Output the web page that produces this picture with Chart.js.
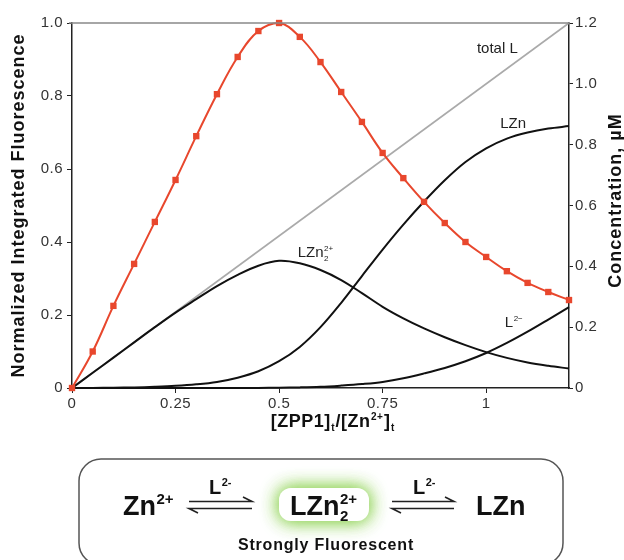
<!DOCTYPE html>
<html lang="en">
<head>
    <meta charset="UTF-8">
    <title>ZPP1 Zn titration</title>
    <script src="https://cdn.jsdelivr.net/npm/chart.js"></script>
    <style>
        body { margin: 0; background: #fff; }
    </style>
</head>
<body>
    <canvas id="titrationChart" width="624" height="560"></canvas>

    <script>
        // [ZPP1]t/[Zn2+]t ratio values
        const xRatio = [0, 0.05, 0.1, 0.15, 0.2, 0.25, 0.3, 0.35, 0.4, 0.45, 0.5, 0.55, 0.6,
                        0.65, 0.7, 0.75, 0.8, 0.85, 0.9, 0.95, 1.0, 1.05, 1.1, 1.15, 1.2];
        // normalized integrated fluorescence (left axis)
        const fluorescence = [0, 0.10, 0.225, 0.34, 0.455, 0.57, 0.69, 0.805, 0.907, 0.978, 1.0, 0.962, 0.893,
                              0.811, 0.729, 0.644, 0.575, 0.51, 0.452, 0.40, 0.359, 0.32, 0.288, 0.263, 0.241];
        // species concentrations, uM (right axis)
        const lzn2 = [0, 0.05, 0.1, 0.15, 0.2, 0.248, 0.292, 0.335, 0.372, 0.402, 0.418, 0.41, 0.388,
                      0.355, 0.312, 0.267, 0.229, 0.196, 0.167, 0.141, 0.118, 0.099, 0.084, 0.073, 0.064];
        const lzn = [0, 0, 0.001, 0.002, 0.004, 0.007, 0.012, 0.02, 0.034, 0.055, 0.088, 0.135, 0.2,
                     0.28, 0.368, 0.455, 0.537, 0.613, 0.683, 0.743, 0.788, 0.82, 0.84, 0.853, 0.861];
        const freeL = [0, 0, 0, 0, 0, 0, 0, 0, 0, 0, 0.001, 0.002, 0.004,
                       0.008, 0.013, 0.02, 0.032, 0.048, 0.066, 0.088, 0.115, 0.148, 0.185, 0.225, 0.266];
        const totalLX = [0, 1.2];
        const totalL = [0, 1.2];
        const xTicks = [0, 0.25, 0.5, 0.75, 1];

        const FONT = "Arial, 'Liberation Sans', Helvetica, sans-serif";
        const RED = '#e8472d';

        const pts = (xs, ys) => xs.map((x, i) => ({ x: x, y: ys[i] }));

        // text with stacked sub/superscripts
        function partWidth(ctx, p, size, weight) {
            if (p.t !== undefined) {
                ctx.font = weight + ' ' + size + 'px ' + FONT;
                return ctx.measureText(p.t).width;
            }
            ctx.font = weight + ' ' + Math.round(size * 0.56) + 'px ' + FONT;
            return Math.max(p.sup ? ctx.measureText(p.sup).width : 0, p.sub ? ctx.measureText(p.sub).width : 0) + 1;
        }
        function drawRich(ctx, parts, x, y, size, weight, align) {
            let w = 0;
            parts.forEach(p => { w += partWidth(ctx, p, size, weight); });
            let cx = align === 'center' ? x - w / 2 : x;
            ctx.textAlign = 'left';
            ctx.textBaseline = 'alphabetic';
            parts.forEach(p => {
                const pw = partWidth(ctx, p, size, weight);
                if (p.t !== undefined) {
                    ctx.font = weight + ' ' + size + 'px ' + FONT;
                    ctx.fillText(p.t, cx, y);
                } else {
                    ctx.font = weight + ' ' + Math.round(size * 0.56) + 'px ' + FONT;
                    if (p.sup) ctx.fillText(p.sup, cx + 0.5, y - size * 0.4);
                    if (p.sub) ctx.fillText(p.sub, cx + 0.5, y + size * 0.22);
                }
                cx += pw;
            });
        }

        function harpoons(ctx, x1, x2, y) {
            ctx.beginPath();
            ctx.moveTo(x1, y - 3.5); ctx.lineTo(x2, y - 3.5); ctx.lineTo(x2 - 9, y - 8);
            ctx.moveTo(x2, y + 3.5); ctx.lineTo(x1, y + 3.5); ctx.lineTo(x1 + 9, y + 8);
            ctx.stroke();
        }

        const decorations = {
            id: 'decorations',
            beforeDraw(chart) {
                chart.ctx.letterSpacing = '0.5px';
            },
            afterDraw(chart) {
                const ctx = chart.ctx;
                const a = chart.chartArea;
                const y2 = chart.scales.y2;
                const x = chart.scales.x;
                ctx.save();

                // gray top frame line
                ctx.strokeStyle = '#888';
                ctx.lineWidth = 1.5;
                ctx.beginPath();
                ctx.moveTo(a.left - 3, a.top); ctx.lineTo(a.right, a.top);
                ctx.stroke();

                ctx.fillStyle = '#111';
                // axis titles
                ctx.letterSpacing = '1px';
                ctx.font = 'bold 18px ' + FONT;
                ctx.textAlign = 'center';
                ctx.textBaseline = 'middle';
                ctx.save();
                ctx.translate(19, (a.top + a.bottom) / 2);
                ctx.rotate(-Math.PI / 2);
                ctx.fillText('Normalized Integrated Fluorescence', 0, 0);
                ctx.restore();
                ctx.save();
                ctx.translate(616, (a.top + a.bottom) / 2 - 5);
                ctx.rotate(-Math.PI / 2);
                ctx.fillText('Concentration, \u00b5M', 0, 0);
                ctx.restore();
                ctx.letterSpacing = '0.5px';
                drawRich(ctx, [{ t: '[ZPP1]' }, { sub: 't' }, { t: '/[Zn' }, { sup: '2+' }, { t: ']' }, { sub: 't' }],
                    333, 427, 18, 'bold', 'center');

                // curve labels
                ctx.fillStyle = '#222';
                ctx.letterSpacing = '0px';
                drawRich(ctx, [{ t: 'total L' }], x.getPixelForValue(1.027), y2.getPixelForValue(1.1), 15, 'normal', 'center');
                drawRich(ctx, [{ t: 'LZn' }], x.getPixelForValue(1.065), y2.getPixelForValue(0.855), 15, 'normal', 'center');
                drawRich(ctx, [{ t: 'LZn' }, { sub: '2', sup: '2+' }], x.getPixelForValue(0.545), y2.getPixelForValue(0.43), 15, 'normal', 'left');
                drawRich(ctx, [{ t: 'L' }, { sup: '2\u2212' }], x.getPixelForValue(1.045), y2.getPixelForValue(0.2), 15, 'normal', 'left');

                // reaction scheme box
                ctx.strokeStyle = '#555';
                ctx.lineWidth = 1.5;
                ctx.beginPath();
                ctx.roundRect(79, 459, 484, 106, 22);
                ctx.stroke();

                // green glow behind the fluorescent species
                ctx.save();
                ctx.shadowColor = 'rgba(140, 210, 80, 0.9)';
                ctx.shadowBlur = 18;
                ctx.fillStyle = '#fff';
                ctx.beginPath();
                ctx.roundRect(279, 488, 90, 33, 12);
                ctx.fill();
                ctx.fill();
                ctx.restore();

                ctx.fillStyle = '#111';
                ctx.strokeStyle = '#222';
                ctx.lineWidth = 1.6;
                drawRich(ctx, [{ t: 'Zn' }, { sup: '2+' }], 123, 515, 27, 'bold', 'left');
                harpoons(ctx, 189, 252, 505);
                drawRich(ctx, [{ t: 'L' }, { sup: '2-' }], 209, 494, 20, 'bold', 'left');
                drawRich(ctx, [{ t: 'LZn' }, { sub: '2', sup: '2+' }], 290, 515, 27, 'bold', 'left');
                harpoons(ctx, 392, 454, 505);
                drawRich(ctx, [{ t: 'L' }, { sup: '2-' }], 413, 494, 20, 'bold', 'left');
                drawRich(ctx, [{ t: 'LZn' }], 476, 515, 27, 'bold', 'left');
                ctx.letterSpacing = '0.8px';
                drawRich(ctx, [{ t: 'Strongly Fluorescent' }], 326, 550, 16, 'bold', 'center');

                ctx.restore();
            }
        };

        const lineStyle = { pointRadius: 0, borderWidth: 2, fill: false, clip: false, tension: 0.35 };

        new Chart(document.getElementById('titrationChart'), {
            type: 'line',
            data: {
                datasets: [
                    {
                        label: 'Fluorescence',
                        data: pts(xRatio, fluorescence),
                        yAxisID: 'y',
                        borderColor: RED,
                        backgroundColor: RED,
                        borderWidth: 2,
                        pointStyle: 'rect',
                        pointRadius: 4.5,
                        pointBorderWidth: 0,
                        tension: 0.4,
                        clip: false
                    },
                    Object.assign({ label: 'LZn2', data: pts(xRatio, lzn2), yAxisID: 'y2', borderColor: '#111' }, lineStyle),
                    Object.assign({ label: 'LZn', data: pts(xRatio, lzn), yAxisID: 'y2', borderColor: '#111' }, lineStyle),
                    Object.assign({ label: 'L', data: pts(xRatio, freeL), yAxisID: 'y2', borderColor: '#111' }, lineStyle),
                    {
                        label: 'total L',
                        data: pts(totalLX, totalL),
                        yAxisID: 'y2',
                        borderColor: '#aaa',
                        borderWidth: 1.6,
                        pointRadius: 0,
                        clip: false
                    }
                ]
            },
            options: {
                responsive: false,
                animation: false,
                layout: { padding: { top: 23, bottom: 120, left: 0, right: 0 } },
                plugins: { legend: { display: false }, tooltip: { enabled: false } },
                scales: {
                    x: {
                        type: 'linear',
                        min: 0,
                        max: 1.2,
                        afterBuildTicks: s => { s.ticks = xTicks.map(v => ({ value: v })); },
                        afterFit: s => { s.height = 52; },
                        grid: { drawOnChartArea: false, tickLength: 5, color: '#222' },
                        border: { color: '#222', width: 1.5 },
                        ticks: { color: '#333', font: { family: FONT, size: 15 }, padding: 2, callback: v => String(v) }
                    },
                    y: {
                        position: 'left',
                        min: 0,
                        max: 1,
                        afterFit: s => { s.width = 72; },
                        grid: { drawOnChartArea: false, tickLength: 5, color: '#222' },
                        border: { color: '#222', width: 1.5 },
                        ticks: { stepSize: 0.2, color: '#333', font: { family: FONT, size: 15 }, padding: 4,
                                 callback: v => v === 0 ? '0' : v.toFixed(1) }
                    },
                    y2: {
                        position: 'right',
                        min: 0,
                        max: 1.2,
                        afterFit: s => { s.width = 55; },
                        grid: { drawOnChartArea: false, tickLength: 4, color: '#222' },
                        border: { color: '#222', width: 1.5 },
                        ticks: { stepSize: 0.2, color: '#333', font: { family: FONT, size: 15 }, padding: 2,
                                 callback: v => v === 0 ? '0' : v.toFixed(1) }
                    }
                }
            },
            plugins: [decorations]
        });
    </script>
</body>
</html>
